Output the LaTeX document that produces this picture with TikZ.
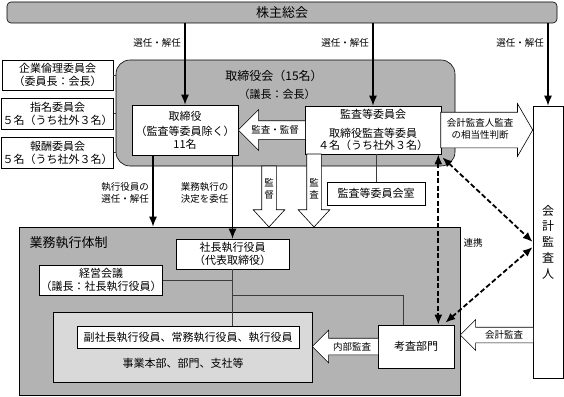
\documentclass[tikz,border=0pt]{standalone}
\usepackage{fontspec}
\setmainfont{Noto Sans CJK JP}
\usetikzlibrary{arrows.meta,shapes.arrows,calc}
\definecolor{boxgray}{RGB}{179,179,179}
\definecolor{palegray}{RGB}{217,217,217}
\definecolor{linegray}{RGB}{60,60,60}

\tikzset{
  plainbox/.style={draw=black,line width=0.6pt,fill=white,align=center,inner sep=1pt,
    font=\fontsize{11}{13}\selectfont},
  grayframe/.style={draw=black,line width=0.6pt,fill=boxgray,inner sep=0pt},
  lbl/.style={font=\fontsize{9.5}{12}\selectfont,align=right,inner sep=0pt},
  elect/.style={-{Latex[length=10pt,width=8pt]},line width=1.3pt},
  link/.style={{Latex[length=10pt,width=8pt]}-{Latex[length=10pt,width=8pt]},
    line width=1.8pt,dash pattern=on 5pt off 2.5pt},
  tie/.style={draw=linegray,line width=0.6pt},
  hollow/.style={single arrow,draw=black,line width=0.6pt,fill=white,
    inner xsep=0pt,outer sep=0pt,anchor=tip}
}

\begin{document}
\begin{tikzpicture}[x=1pt,y=-1pt]
    \useasboundingbox (0,0) rectangle (564,396);

    % General meeting
    \node[grayframe,rounded corners=4pt,minimum width=550pt,minimum height=21pt,
      font=\fontsize{13}{15}\selectfont] (gm) at (282,12.5) {株主総会};

    % Board of directors
    \node[grayframe,rounded corners=14pt,minimum width=339pt,minimum height=106pt] (board) at (285.5,113) {};
    \node[font=\fontsize{12}{14}\selectfont] (boardtitle) at (274,76) {取締役会（15名）};
    \node[font=\fontsize{11}{13}\selectfont] (boardchair) at (277,94) {（議長：会長）};

    % Committees
    \node[plainbox,minimum width=111pt,minimum height=30pt] (ethics) at (57.5,75) {企業倫理委員会\\（委員長：会長）};
    \node[plainbox,minimum width=111pt,minimum height=31pt] (nom) at (57.5,113.5) {指名委員会\\５名（うち社外３名）};
    \node[plainbox,minimum width=111pt,minimum height=31pt] (rem) at (57.5,152.5) {報酬委員会\\５名（うち社外３名）};
    \foreach \c in {ethics,nom,rem}
        \draw[tie] (\c.east) -- (\c.east -| board.west);

    \node[plainbox,minimum width=106pt,minimum height=50pt] (dir) at (185,130)
      {取締役\\[2pt]（監査等委員除く）\\11名};
    \node[plainbox,minimum width=136pt,minimum height=48pt,font=\fontsize{11}{12}\selectfont] (aud) at (373,130)
      {監査等委員会\\[7pt]取締役監査等委員\\４名（うち社外３名）};
    \node[plainbox,minimum width=98pt,minimum height=23pt] (audoffice) at (376,193.5) {監査等委員会室};
    \draw[tie] (audoffice.north) -- (audoffice.north |- aud.south);

    % Accounting auditor
    \node[plainbox,minimum width=30pt,minimum height=272pt,font=\fontsize{12}{15.7}\selectfont] (auditor) at (548,242)
      {会\\計\\監\\査\\人};

    % Executive organisation
    \node[grayframe,minimum width=441pt,minimum height=168pt] (exec) at (239.5,311) {};
    \node[font=\fontsize{13}{15}\selectfont,anchor=west] (exectitle) at (26,243) {業務執行体制};
    \node[draw=black,line width=0.6pt,fill=palegray,minimum width=259pt,minimum height=70pt] (biz) at (182.5,347) {};
    \node[font=\fontsize{11}{13}\selectfont] (biztext) at (183,363) {事業本部、部門、支社等};
    \node[plainbox,minimum width=113pt,minimum height=30pt] (pres) at (232.5,254) {社長執行役員\\（代表取締役）};
    \node[plainbox,minimum width=122pt,minimum height=30pt] (mgmt) at (101,280) {経営会議\\（議長：社長執行役員）};
    \node[plainbox,minimum width=222pt,minimum height=22pt] (vps) at (188,337) {副社長執行役員、常務執行役員、執行役員};
    \node[plainbox,minimum width=76pt,minimum height=43pt] (insp) at (416,346.5) {考査部門};

    \draw[tie] (pres.south) -- (pres.south |- vps.north);
    \draw[tie] (mgmt.east) -- (mgmt.east -| pres.south);
    \draw[tie] (pres.south |- 0,295) -| ([xshift=-13pt]insp.north);

    % Appointments
    \foreach \t in {dir,aud,auditor} {
        \draw[elect] (\t.north |- gm.south) -- (\t.north);
        \node[lbl,anchor=east] at ([xshift=-4pt]\t.north |- 0,43) {選任・解任};
    }
    \coordinate (sel) at ([xshift=-32pt]dir.south);
    \draw[elect] (sel) -- (sel |- exec.north);
    \node[lbl,anchor=east] at ([xshift=-4pt]sel |- 0,193) {執行役員の\\選任・解任};
    \draw[elect] (pres.north |- dir.south) -- (pres.north);
    \node[lbl,anchor=east] at ([xshift=-4pt]pres.north |- 0,193) {業務執行の\\決定を委任};

    % Block arrows
    \node[hollow,minimum height=67pt,inner ysep=9pt,single arrow head extend=11pt,
      single arrow tip angle=90,rotate=180] (supv) at (dir.east) {};
    \node[lbl,align=center] at (275,130) {監査・監督};

    \node[hollow,minimum height=92pt,inner ysep=17.5pt,single arrow head extend=8.5pt,
      single arrow tip angle=120] (judge) at (auditor.west |- aud.east) {};
    \node[lbl,align=center] at (480,129) {会計監査人監査\\の相当性判断};

    \node[hollow,minimum height=66pt,inner ysep=8pt,single arrow head extend=8pt,
      single arrow tip angle=90,rotate=180] (internal) at (biz.east |- insp.west) {};
    \node[lbl,align=center] at (352,347) {内部監査};

    \node[hollow,minimum height=73pt,inner ysep=7.5pt,single arrow head extend=7.5pt,
      single arrow tip angle=90,rotate=180] (extaudit) at (exec.east |- 0,335) {};
    \node[lbl,align=center] at (504,335) {会計監査};

    \node[hollow,minimum height=61pt,inner ysep=7pt,single arrow head extend=8.5pt,
      single arrow tip angle=85,rotate=-90] (oversee) at (269,227) {};
    \node[lbl,align=center] at (269,189) {監\\督};

    \node[hollow,minimum height=73pt,inner ysep=7pt,single arrow head extend=8.5pt,
      single arrow tip angle=85,rotate=-90] (inspect) at (314,227) {};
    \node[lbl,align=center] at (314,189) {監\\査};

    % Cooperation
    \draw[link] ([xshift=-3pt]aud.south east) -- ([xshift=-3pt]aud.south east |- insp.north);
    \draw[link] ([shift={(1,3)}]aud.south east) -- (auditor.west);
    \draw[link] ([shift={(-9,-2)}]insp.north east) -- ([yshift=-5pt]auditor.west);
    \node[lbl] (coop) at (473,243) {連携};
\end{tikzpicture}
\end{document}
